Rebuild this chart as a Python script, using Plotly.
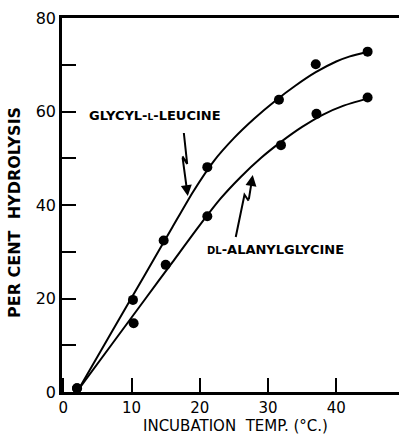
import plotly.graph_objects as go

# Measured points
gly_x = [2.0, 10.2, 14.7, 21.1, 31.6, 37.0, 44.6]
gly_y = [0.8, 19.7, 32.4, 48.1, 62.5, 70.1, 72.8]
ala_x = [2.0, 10.3, 15.0, 21.1, 31.9, 37.1, 44.6]
ala_y = [0.8, 14.7, 27.2, 37.6, 52.8, 59.5, 63.0]

# Smooth fitted curves
gly_curve_x = [2.2, 7, 12, 16, 19, 22, 25, 28, 31, 34, 37, 40, 42, 44.6]
gly_curve_y = [0.5, 12.6, 25.2, 35.3, 42.8, 49.3, 54.3, 58.5, 62.2, 65.5, 68.4, 70.7, 71.8, 72.8]
ala_curve_x = [2.2, 7, 12, 16, 20, 23, 26, 29, 32, 35, 38, 41, 44.6]
ala_curve_y = [0.5, 10.0, 19.9, 27.8, 35.7, 41.3, 46.0, 50.1, 53.6, 56.7, 59.3, 61.2, 62.8]

x_tickvals = [0, 10, 20, 30, 40]
x_ticktext = ["0", "10", "20", "30", "40"]
y_tickvals = [0, 10, 20, 30, 40, 50, 60, 70, 80]
y_ticktext = ["0", "", "20", "", "40", "", "60", "", "80"]

fig = go.Figure()
for cx, cy in [(gly_curve_x, gly_curve_y), (ala_curve_x, ala_curve_y)]:
    fig.add_trace(go.Scatter(x=cx, y=cy, mode="lines",
                             line=dict(color="black", width=2, shape="spline", smoothing=0.6),
                             hoverinfo="skip", showlegend=False))
for px, py in [(gly_x, gly_y), (ala_x, ala_y)]:
    fig.add_trace(go.Scatter(x=px, y=py, mode="markers",
                             marker=dict(color="black", size=10),
                             showlegend=False))

# zig-zag arrows
def zig(points):
    d = "M %f %f" % points[0]
    for p in points[1:]:
        d += " L %f %f" % p
    return d

arrow1 = [(17.66, 55.4), (18.15, 48.8), (17.45, 50.4)]
arrow1_tip = (18.24, 41.9)
arrow2 = [(25.27, 33.16), (26.55, 42.2), (27.15, 40.9)]
arrow2_tip = (27.76, 46.4)
for pts in (arrow1, arrow2):
    fig.add_shape(type="path", path=zig(pts), xref="x", yref="y",
                  line=dict(color="black", width=2))
for pts, tip in ((arrow1, arrow1_tip), (arrow2, arrow2_tip)):
    fig.add_annotation(x=tip[0], y=tip[1], ax=pts[-1][0], ay=pts[-1][1],
                       xref="x", yref="y", axref="x", ayref="y", text="",
                       showarrow=True, arrowhead=2, arrowsize=1.1, arrowwidth=2,
                       arrowcolor="black")

lab_font = dict(family="DejaVu Sans", size=13, color="black")
fig.add_annotation(x=13.4, y=59.25, xref="x", yref="y", showarrow=False,
                   text="<b>GLYCYL-<span style='font-size:9px'>L</span>-LEUCINE</b>",
                   font=lab_font)
fig.add_annotation(x=31.1, y=30.4, xref="x", yref="y", showarrow=False,
                   text="<b><span style='font-size:10px'>DL</span>-ALANYLGLYCINE</b>",
                   font=lab_font)

fig.add_annotation(x=-0.139, y=0.479, xref="paper", yref="paper", showarrow=False,
                   xanchor="center", yanchor="middle",
                   text="<b>PER CENT  HYDROLYSIS</b>", textangle=-90,
                   font=dict(family="DejaVu Sans", size=16, color="black"))
fig.add_annotation(x=0.516, y=-0.091, xref="paper", yref="paper", showarrow=False,
                   xanchor="center", yanchor="middle",
                   text="INCUBATION  TEMP. (°C.)",
                   font=dict(family="DejaVu Sans", size=15, color="black"))

fig.update_xaxes(range=[-0.2, 49.2], tickvals=x_tickvals, ticktext=x_ticktext,
                 ticks="inside", ticklen=14, tickwidth=2, tickcolor="black",
                 showline=True, linecolor="black", linewidth=2.5, mirror=True,
                 showgrid=False, zeroline=False,
                 tickfont=dict(family="DejaVu Sans", size=15, color="black"))
fig.update_yaxes(range=[0, 80], tickvals=y_tickvals, ticktext=y_ticktext,
                 ticks="inside", ticklen=14, tickwidth=2, tickcolor="black",
                 showline=True, linecolor="black", linewidth=2.5,
                 showgrid=False, zeroline=False,
                 tickfont=dict(family="DejaVu Sans", size=16, color="black"))

fig.update_layout(width=399, height=435, margin=dict(l=62, r=0, t=18, b=43),
                  paper_bgcolor="white", plot_bgcolor="white", showlegend=False)
fig.write_html("out.html")
